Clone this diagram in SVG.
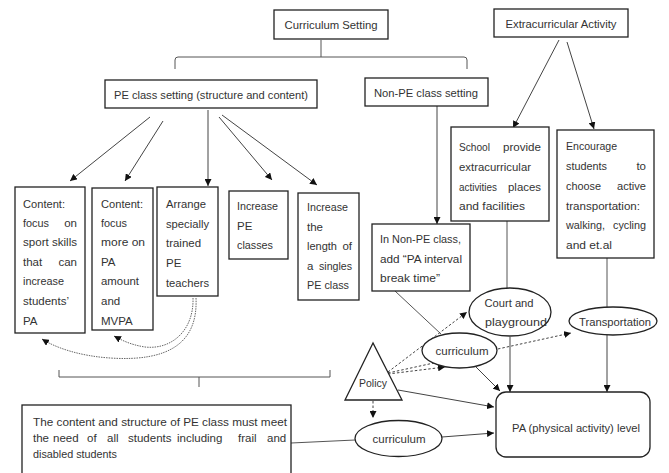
<svg xmlns="http://www.w3.org/2000/svg" width="669" height="473" viewBox="0 0 669 473">
<style>
.bx{fill:#fff;stroke:#222;stroke-width:1.3}
.el{fill:#fff;stroke:#222;stroke-width:1.3}
.ln{fill:none;stroke:#555;stroke-width:1}
.ar{fill:none;stroke:#444;stroke-width:1;marker-end:url(#ah)}
.da{fill:none;stroke:#444;stroke-width:1;stroke-dasharray:2.5,2;marker-end:url(#ah)}
.cv{fill:none;stroke:#666;stroke-width:1;stroke-dasharray:1.5,1;marker-end:url(#ah)}
.br{fill:none;stroke:#555;stroke-width:1}
text{font-family:"Liberation Sans",Arial,sans-serif;font-size:11.5px;fill:#333}
.m{text-anchor:middle}
.e{text-anchor:end}
</style>
<defs>
<marker id="ah" viewBox="0 0 10 10" refX="10" refY="5" markerWidth="7" markerHeight="7" orient="auto" markerUnits="userSpaceOnUse"><path d="M0,0 L10,5 L0,10 z" fill="#111"/></marker>
</defs>
<rect width="669" height="473" fill="#fff"/>

<g id="connectors">
<path class="br" d="M175,69 L175,60 Q175,57 178,57 L464,57 Q467,57 467,60 L467,69 M321,57 L321,40"/>
<path class="br" d="M59,370 L59,377 L330,377 L330,370 M199,377 L199,387"/>
<line class="ar" x1="150" y1="117" x2="70" y2="181"/>
<line class="ar" x1="163" y1="121" x2="125" y2="181"/>
<line class="ar" x1="208" y1="110" x2="208" y2="186"/>
<line class="ar" x1="219" y1="117" x2="272" y2="180"/>
<line class="ar" x1="222" y1="115" x2="317" y2="185"/>
<line class="ar" x1="437" y1="106" x2="437" y2="224"/>
<line class="ar" x1="559" y1="40" x2="513" y2="128"/>
<line class="ar" x1="567" y1="42" x2="594" y2="129"/>
<line class="ln" x1="507" y1="221" x2="507" y2="289"/>
<line class="ln" x1="607" y1="258" x2="607" y2="307"/>
<line class="ln" x1="395" y1="291" x2="441" y2="334"/>
<line class="ar" x1="510" y1="337" x2="510" y2="392"/>
<line class="ar" x1="607" y1="335" x2="607" y2="392"/>
<line class="ar" x1="475" y1="366" x2="500" y2="391"/>
<line class="ar" x1="398" y1="390" x2="494" y2="407"/>
<line class="ln" x1="291" y1="443" x2="355" y2="440"/>
<line class="ar" x1="442" y1="437" x2="494" y2="433"/>
<line class="da" x1="388" y1="372" x2="467" y2="312"/>
<line class="da" x1="388" y1="373" x2="571" y2="333"/>
<line class="da" x1="388" y1="374" x2="445" y2="367"/>
<line class="da" x1="373" y1="401" x2="373" y2="418"/>
<path class="cv" d="M193,298 C194,330 172,350 145,347 C132,345 123,341 114,336"/>
<path class="cv" d="M196,298 C198,342 170,362 110,358 C80,356 56,348 42,339"/>
</g>

<g id="curriculum-setting"><rect class="bx" x="274" y="10" width="114" height="29"/><text class="m" x="331" y="29" textLength="93" lengthAdjust="spacingAndGlyphs">Curriculum Setting</text></g>
<g id="extracurricular"><rect class="bx" x="494" y="9" width="134" height="28"/><text class="m" x="561" y="28" textLength="111" lengthAdjust="spacingAndGlyphs">Extracurricular Activity</text></g>
<g id="pe-class-setting"><rect class="bx" x="105" y="80" width="212" height="28"/><text class="m" x="211" y="99" textLength="194" lengthAdjust="spacingAndGlyphs">PE class setting (structure and content)</text></g>
<g id="non-pe-class-setting"><rect class="bx" x="365" y="78" width="123" height="28"/><text class="m" x="426" y="97" textLength="104" lengthAdjust="spacingAndGlyphs">Non-PE class setting</text></g>

<g id="content-sport">
<rect class="bx" x="15" y="187" width="70" height="146"/>
<text x="23" y="208" textLength="42" lengthAdjust="spacingAndGlyphs">Content:</text>
<text x="23" y="227" textLength="26" lengthAdjust="spacingAndGlyphs">focus</text><text class="e" x="77" y="227">on</text>
<text x="23" y="246" textLength="54" lengthAdjust="spacingAndGlyphs">sport skills</text>
<text x="23" y="266">that</text><text class="e" x="77" y="266">can</text>
<text x="23" y="285" textLength="41" lengthAdjust="spacingAndGlyphs">increase</text>
<text x="23" y="305" textLength="46" lengthAdjust="spacingAndGlyphs">students’</text>
<text x="23" y="325">PA</text>
</g>
<g id="content-pa">
<rect class="bx" x="92" y="188" width="61" height="142"/>
<text x="101" y="208" textLength="42" lengthAdjust="spacingAndGlyphs">Content:</text>
<text x="101" y="227" textLength="26" lengthAdjust="spacingAndGlyphs">focus</text>
<text x="101" y="246" textLength="44" lengthAdjust="spacingAndGlyphs">more on</text>
<text x="101" y="266">PA</text>
<text x="101" y="285" textLength="38" lengthAdjust="spacingAndGlyphs">amount</text>
<text x="101" y="305">and</text>
<text x="101" y="325">MVPA</text>
</g>
<g id="trained-teachers">
<rect class="bx" x="157" y="187" width="61" height="109"/>
<text x="166" y="208" textLength="40" lengthAdjust="spacingAndGlyphs">Arrange</text>
<text x="166" y="228" textLength="43" lengthAdjust="spacingAndGlyphs">specially</text>
<text x="166" y="247" textLength="35" lengthAdjust="spacingAndGlyphs">trained</text>
<text x="166" y="267">PE</text>
<text x="166" y="287" textLength="43" lengthAdjust="spacingAndGlyphs">teachers</text>
</g>
<g id="increase-classes">
<rect class="bx" x="229" y="191" width="59" height="68"/>
<text x="237" y="210" textLength="41" lengthAdjust="spacingAndGlyphs">Increase</text>
<text x="237" y="230">PE</text>
<text x="237" y="249" textLength="36" lengthAdjust="spacingAndGlyphs">classes</text>
</g>
<g id="increase-length">
<rect class="bx" x="298" y="193" width="61" height="107"/>
<text x="307" y="211" textLength="41" lengthAdjust="spacingAndGlyphs">Increase</text>
<text x="307" y="231">the</text>
<text x="307" y="250" textLength="30" lengthAdjust="spacingAndGlyphs">length</text><text class="e" x="352" y="250">of</text>
<text x="307" y="270">a</text><text class="e" x="352" y="270" textLength="33" lengthAdjust="spacingAndGlyphs">singles</text>
<text x="307" y="289" textLength="42" lengthAdjust="spacingAndGlyphs">PE class</text>
</g>
<g id="non-pe-break">
<rect class="bx" x="372" y="224" width="98" height="67"/>
<text x="380" y="243" textLength="81" lengthAdjust="spacingAndGlyphs">In Non-PE class,</text>
<text x="380" y="263" textLength="82" lengthAdjust="spacingAndGlyphs">add “PA interval</text>
<text x="380" y="282" textLength="60" lengthAdjust="spacingAndGlyphs">break time”</text>
</g>
<g id="school-provide">
<rect class="bx" x="451" y="127" width="98" height="94"/>
<text x="459" y="151" textLength="31" lengthAdjust="spacingAndGlyphs">School</text><text class="e" x="541" y="151" textLength="38" lengthAdjust="spacingAndGlyphs">provide</text>
<text x="459" y="171" textLength="72" lengthAdjust="spacingAndGlyphs">extracurricular</text>
<text x="459" y="191" textLength="38" lengthAdjust="spacingAndGlyphs">activities</text><text class="e" x="541" y="191" textLength="33" lengthAdjust="spacingAndGlyphs">places</text>
<text x="459" y="210" textLength="66" lengthAdjust="spacingAndGlyphs">and facilities</text>
</g>
<g id="encourage-transport">
<rect class="bx" x="557" y="130" width="97" height="128"/>
<text x="566" y="150" textLength="51" lengthAdjust="spacingAndGlyphs">Encourage</text>
<text x="566" y="170" textLength="41" lengthAdjust="spacingAndGlyphs">students</text><text class="e" x="646" y="170">to</text>
<text x="566" y="190" textLength="35" lengthAdjust="spacingAndGlyphs">choose</text><text class="e" x="646" y="190" textLength="29" lengthAdjust="spacingAndGlyphs">active</text>
<text x="566" y="210" textLength="74" lengthAdjust="spacingAndGlyphs">transportation:</text>
<text x="566" y="229" textLength="39" lengthAdjust="spacingAndGlyphs">walking,</text><text class="e" x="646" y="229" textLength="33" lengthAdjust="spacingAndGlyphs">cycling</text>
<text x="566" y="249" textLength="46" lengthAdjust="spacingAndGlyphs">and et.al</text>
</g>
<g id="court-playground">
<ellipse class="el" cx="510" cy="312" rx="41" ry="24"/>
<text class="m" x="509" y="307" textLength="49" lengthAdjust="spacingAndGlyphs">Court and</text>
<text class="m" x="516" y="326" textLength="62" lengthAdjust="spacingAndGlyphs">playground</text>
</g>
<g id="transportation">
<ellipse class="el" cx="613" cy="321" rx="44" ry="14"/>
<text class="m" x="615" y="326" textLength="72" lengthAdjust="spacingAndGlyphs">Transportation</text>
</g>
<g id="curriculum-mid">
<ellipse class="el" cx="459.5" cy="350.5" rx="37.5" ry="17.5"/>
<text class="m" x="462" y="355" textLength="53" lengthAdjust="spacingAndGlyphs">curriculum</text>
</g>
<g id="policy">
<polygon class="bx" points="373,343 345,400 402,400"/>
<text class="m" x="373" y="387" textLength="28" lengthAdjust="spacingAndGlyphs">Policy</text>
</g>
<g id="curriculum-bottom">
<ellipse class="el" cx="398.5" cy="438.5" rx="43.5" ry="18"/>
<text class="m" x="399" y="443" textLength="53" lengthAdjust="spacingAndGlyphs">curriculum</text>
</g>
<g id="pa-level">
<rect class="bx" x="496" y="392" width="154" height="65" rx="10"/>
<text class="m" x="576" y="432" textLength="128" lengthAdjust="spacingAndGlyphs">PA (physical activity) level</text>
</g>
<g id="pe-needs">
<rect class="bx" x="22" y="405" width="269" height="70"/>
<text x="33" y="426" textLength="254" lengthAdjust="spacingAndGlyphs">The content and structure of PE class must meet</text>
<text y="442"><tspan x="33">the</tspan><tspan x="53">need</tspan><tspan x="87">of</tspan><tspan x="107">all</tspan><tspan x="128">students</tspan><tspan x="177">including</tspan><tspan x="238">frail</tspan><tspan x="267">and</tspan></text>
<text x="33" y="458" textLength="84" lengthAdjust="spacingAndGlyphs">disabled students</text>
</g>
</svg>
